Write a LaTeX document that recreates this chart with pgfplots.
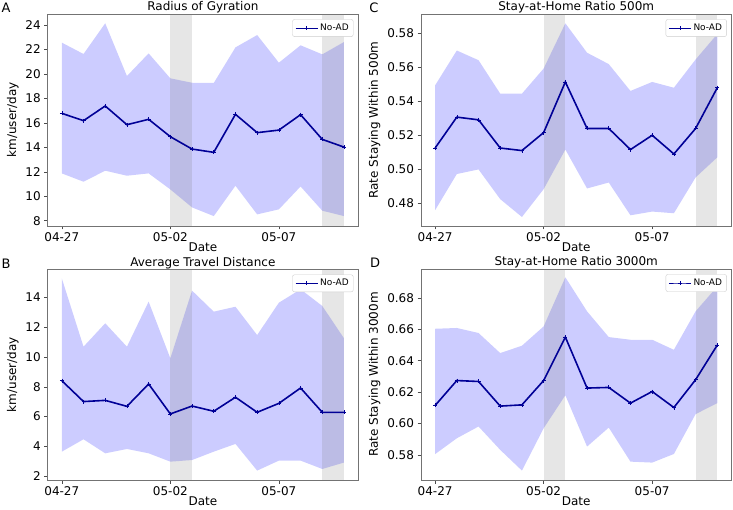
\documentclass[border=0pt]{standalone}
\usepackage{fontspec}
\setmainfont{DejaVu Sans}
\usepackage{pgfplots}
\pgfplotsset{compat=1.18}
\usepgfplotslibrary{fillbetween}
\definecolor{linec}{RGB}{0,0,150}
\pgfplotsset{panel/.style={
 scale only axis, width=310.4pt, height=212pt,
 xmin=-0.65, xmax=13.65,
 xtick={0,5,10}, xticklabels={04-27,05-02,05-07},
 tick align=outside, xtick pos=bottom, ytick pos=left,
 major tick length=3.5pt,
 every tick/.style={black!70, line width=0.6pt},
 axis line style={black!55, line width=0.8pt},
 tick label style={font=\fontsize{12}{14}\selectfont},
 label style={font=\fontsize{12}{14}\selectfont},
 title style={font=\fontsize{12}{14}\selectfont, yshift=-9pt},
 xlabel=Date,
 xlabel style={yshift=6pt},
 /pgf/number format/assume math mode=true,
 legend style={at={(0.985,0.975)}, anchor=north east, draw=black!20, rounded corners=2pt, font=\fontsize{9}{10}\selectfont, inner sep=2.5pt},
 legend image code/.code={\draw[mark repeat=2,mark phase=2,#1, line width=1pt] plot coordinates {(0cm,0cm) (0.39cm,0cm) (0.78cm,0cm)};},
 legend cell align=left,
 anchor=south west,
},
mainline/.style={linec, line width=1.6pt, mark=+, mark size=2pt, mark options={line width=0.6pt}},
}
\begin{document}
\begin{tikzpicture}
% ---------------- A
\begin{axis}[panel, at={(47.7pt,283pt)}, ymin=7.57, ymax=24.9, ytick={8,10,...,24},
  ylabel={km/user/day}, title={Radius of Gyration}]
\addplot[name path=up, draw=none, forget plot] coordinates {(0,22.56)(1,21.63)(2,24.14)(3,19.83)(4,21.68)(5,19.64)(6,19.28)(7,19.26)(8,22.17)(9,23.18)(10,20.92)(11,22.34)(12,21.6)(13,22.61)};
\addplot[name path=lo, draw=none, forget plot] coordinates {(0,11.87)(1,11.19)(2,12.09)(3,11.68)(4,11.87)(5,10.56)(6,9.09)(7,8.38)(8,10.86)(9,8.52)(10,8.93)(11,10.8)(12,8.82)(13,8.38)};
\addplot[blue, fill opacity=0.2, draw=none, forget plot] fill between[of=up and lo];
\fill[gray, opacity=0.2] (axis cs:5,7.57) rectangle (axis cs:6,24.9);
\fill[gray, opacity=0.2] (axis cs:12,7.57) rectangle (axis cs:13,24.9);
\addplot[mainline] coordinates {(0,16.78)(1,16.18)(2,17.38)(3,15.85)(4,16.29)(5,14.87)(6,13.86)(7,13.59)(8,16.70)(9,15.20)(10,15.41)(11,16.67)(12,14.65)(13,14.02)};
\addlegendentry{No-AD}
\end{axis}
% ---------------- C
\begin{axis}[panel, at={(421pt,283pt)}, ymin=0.4666, ymax=0.5914, ytick={0.48,0.50,...,0.58},
  yticklabel style={/pgf/number format/.cd, fixed, fixed zerofill, precision=2},
  ylabel={Rate Staying Within 500m}, title={Stay-at-Home Ratio 500m}]
\addplot[name path=up, draw=none, forget plot] coordinates {(0,0.5494)(1,0.5699)(2,0.5642)(3,0.5445)(4,0.5445)(5,0.5593)(6,0.5859)(7,0.5686)(8,0.5619)(9,0.5461)(10,0.5514)(11,0.5480)(12,0.5646)(13,0.5796)};
\addplot[name path=lo, draw=none, forget plot] coordinates {(0,0.4759)(1,0.4972)(2,0.4999)(3,0.4824)(4,0.4719)(5,0.4883)(6,0.5116)(7,0.4887)(8,0.4922)(9,0.4729)(10,0.4751)(11,0.4741)(12,0.4952)(13,0.5070)};
\addplot[blue, fill opacity=0.2, draw=none, forget plot] fill between[of=up and lo];
\fill[gray, opacity=0.2] (axis cs:5,0.4666) rectangle (axis cs:6,0.5914);
\fill[gray, opacity=0.2] (axis cs:12,0.4666) rectangle (axis cs:13,0.5914);
\addplot[mainline] coordinates {(0,0.5125)(1,0.5307)(2,0.5291)(3,0.5125)(4,0.5110)(5,0.5216)(6,0.5514)(7,0.5240)(8,0.5240)(9,0.5116)(10,0.5200)(11,0.5090)(12,0.5240)(13,0.5480)};
\addlegendentry{No-AD}
\end{axis}
% ---------------- B
\begin{axis}[panel, at={(47.7pt,29pt)}, height=210.7pt, ymin=1.75, ymax=15.88, ytick={2,4,...,14},
  ylabel={km/user/day}, title={Average Travel Distance}]
\addplot[name path=up, draw=none, forget plot] coordinates {(0,15.27)(1,10.69)(2,12.26)(3,10.69)(4,13.71)(5,9.91)(6,14.45)(7,13.04)(8,13.37)(9,11.47)(10,13.64)(11,14.54)(12,13.42)(13,11.25)};
\addplot[name path=lo, draw=none, forget plot] coordinates {(0,3.65)(1,4.48)(2,3.54)(3,3.83)(4,3.54)(5,2.98)(6,3.09)(7,3.65)(8,4.17)(9,2.38)(10,3.05)(11,3.05)(12,2.49)(13,2.92)};
\addplot[blue, fill opacity=0.2, draw=none, forget plot] fill between[of=up and lo];
\fill[gray, opacity=0.2] (axis cs:5,1.75) rectangle (axis cs:6,15.88);
\fill[gray, opacity=0.2] (axis cs:12,1.75) rectangle (axis cs:13,15.88);
\addplot[mainline] coordinates {(0,8.41)(1,7.01)(2,7.09)(3,6.69)(4,8.19)(5,6.18)(6,6.71)(7,6.36)(8,7.30)(9,6.29)(10,6.89)(11,7.92)(12,6.29)(13,6.29)};
\addlegendentry{No-AD}
\end{axis}
% ---------------- D
\begin{axis}[panel, at={(421pt,29pt)}, height=211pt, ymin=0.564, ymax=0.6985, ytick={0.58,0.60,...,0.68},
  yticklabel style={/pgf/number format/.cd, fixed, fixed zerofill, precision=2},
  ylabel={Rate Staying Within 3000m}, title={Stay-at-Home Ratio 3000m}]
\addplot[name path=up, draw=none, forget plot] coordinates {(0,0.6604)(1,0.6609)(2,0.6577)(3,0.6449)(4,0.6496)(5,0.6619)(6,0.6932)(7,0.6715)(8,0.6551)(9,0.6534)(10,0.6534)(11,0.6470)(12,0.6715)(13,0.6874)};
\addplot[name path=lo, draw=none, forget plot] coordinates {(0,0.5805)(1,0.5906)(2,0.5981)(3,0.5832)(4,0.5700)(5,0.5970)(6,0.6180)(7,0.5853)(8,0.5974)(9,0.5757)(10,0.5751)(11,0.5806)(12,0.6060)(13,0.6130)};
\addplot[blue, fill opacity=0.2, draw=none, forget plot] fill between[of=up and lo];
\fill[gray, opacity=0.2] (axis cs:5,0.564) rectangle (axis cs:6,0.6985);
\fill[gray, opacity=0.2] (axis cs:12,0.564) rectangle (axis cs:13,0.6985);
\addplot[mainline] coordinates {(0,0.6115)(1,0.6274)(2,0.6268)(3,0.6111)(4,0.6119)(5,0.6274)(6,0.6551)(7,0.6226)(8,0.6230)(9,0.6130)(10,0.6204)(11,0.6102)(12,0.6279)(13,0.6500)};
\addlegendentry{No-AD}
\end{axis}
\node[font=\fontsize{13}{15}\selectfont] at (6pt,501pt) {A};
\node[font=\fontsize{13}{15}\selectfont] at (374pt,501pt) {C};
\node[font=\fontsize{13}{15}\selectfont] at (6pt,245pt) {B};
\node[font=\fontsize{13}{15}\selectfont] at (375pt,246pt) {D};
\pgfresetboundingbox
\useasboundingbox (0,0) rectangle (733pt,509pt);
\end{tikzpicture}
\end{document}
